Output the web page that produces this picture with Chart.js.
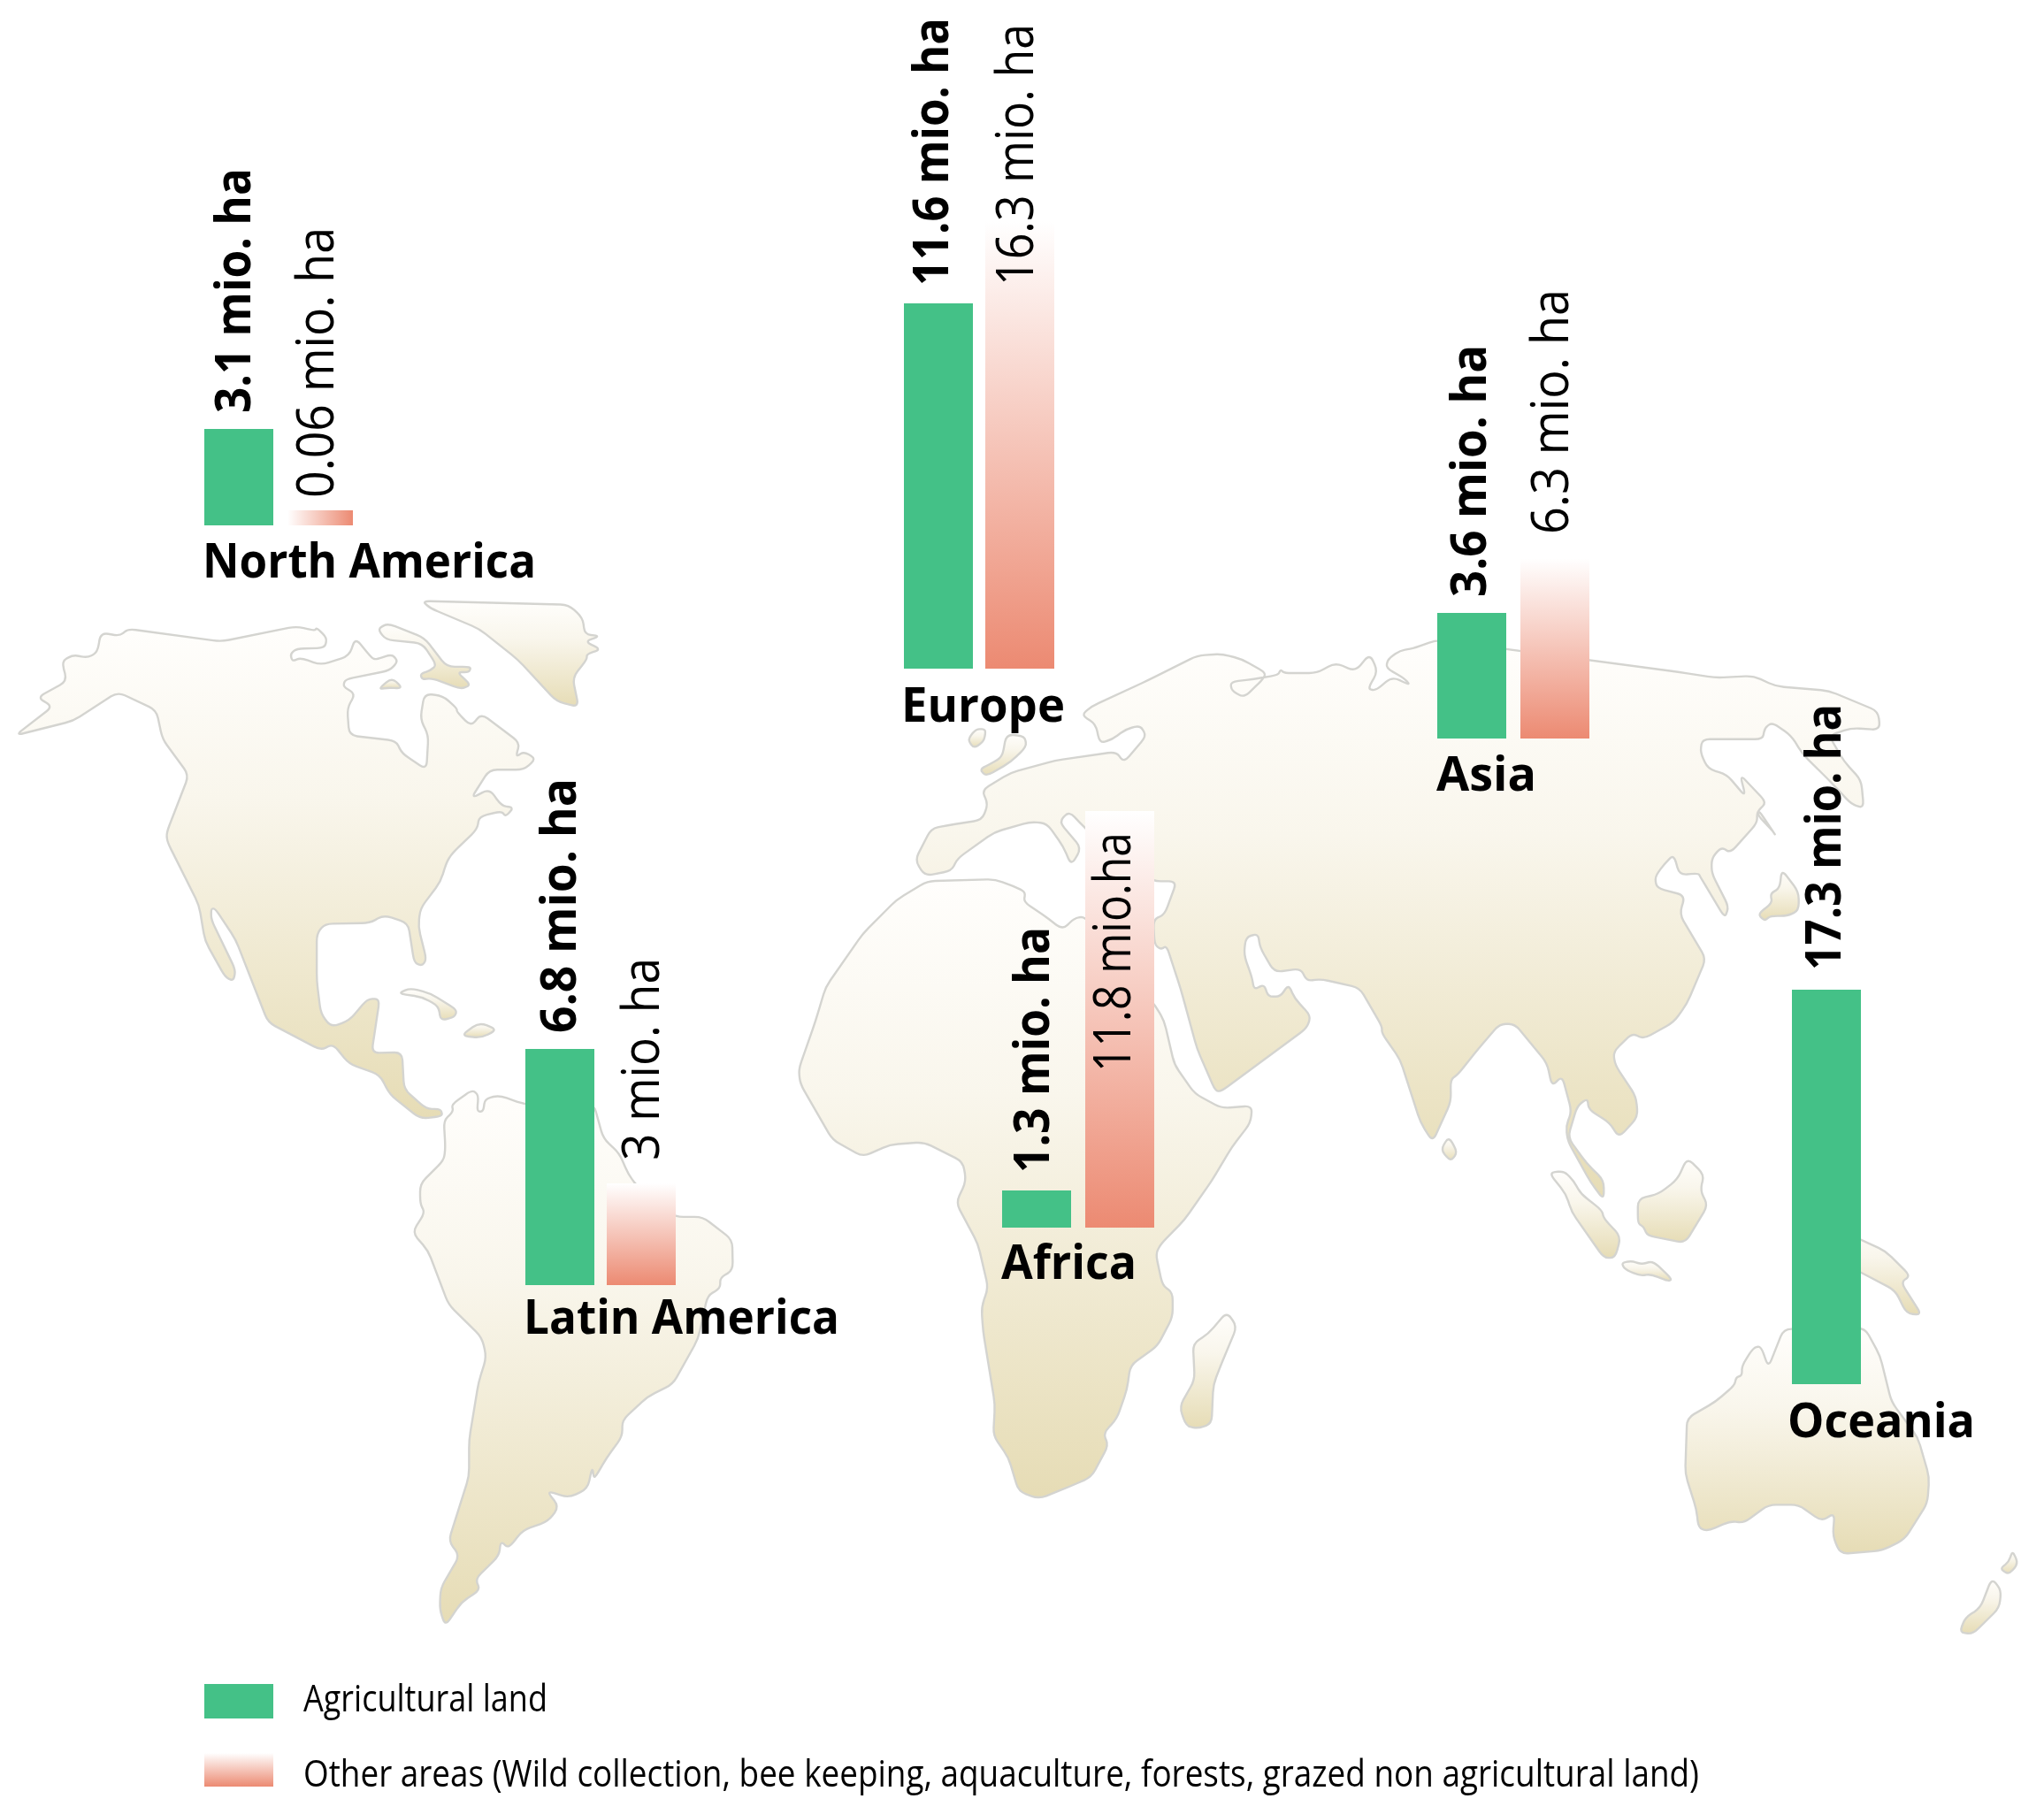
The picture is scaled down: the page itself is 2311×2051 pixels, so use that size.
<!DOCTYPE html>
<html><head><meta charset="utf-8">
<script src="https://cdn.jsdelivr.net/npm/chart.js@4"></script>
<style>html,body{margin:0;padding:0;background:#fff}
#stage{position:relative;width:2311px;height:2051px;overflow:hidden;filter:blur(0.7px)}
#stage canvas{position:absolute;left:0;top:0}</style></head>
<body><div id="stage"></div>
<script>
// ---------- data ----------
const regions      = ['North America','Latin America','Europe','Africa','Asia','Oceania'];
const agricultural = [3.1, 6.8, 11.6, 1.3, 3.6, 17.3];
const otherAreas   = [0.06, 3, 16.3, 11.8, 6.3, null];
const agriLabels   = ['3.1 mio. ha','6.8 mio. ha','11.6 mio. ha','1.3 mio. ha','3.6 mio. ha','17.3 mio. ha'];
const otherLabels  = ['0.06 mio. ha','3 mio. ha','16.3 mio. ha','11.8 mio.ha','6.3 mio. ha',null];
const legendLabels = ['Agricultural land','Other areas (Wild collection, bee keeping, aquaculture, forests, grazed non agricultural land)'];

// ---------- layout (pixels on the page, not data) ----------
const W = 2311, H = 2051;
const agriLeft   = [231,594,1022,1133,1625,2026];
const otherLeft  = [321,686,1114,1227,1719,2120];
const baseline   = [594,1453,756,1388,835,1565];
const agriDrawn  = [109,267,413,42,142,446];
const otherDrawn = [17,115,506,471,204,1];
const barWidth = 78;
// value labels: x of text baseline, y of text start, drawn length
const agriText  = [[283,467,277],[651,1168,288],[1072,323,303],[1186,1326,278],[1680,675,285],[2081,1097,301]];
const otherText = [[377,563,306],[745,1312,229],[1168,323,296],[1278,1212,271],[1773,604,277],null];
// region names: x, baseline y, width
const nameText  = [[229,653,377],[592,1508,357],[1019,816,185],[1132,1446,153],[1624,894,113],[2021,1625,212]];
const GREEN = '#44C187', SALMON = '#EC8A72';
const FONT = '"Open Sans"';

// ---------- base map outline, traced in cropped views ----------
const F1=[0,660,2.178,2.45],F2=[400,1220,2.8,2.45],F3=[880,880,2.613,1.823],F4=[1000,680,2.178,2.529],F5=[1640,760,2.337,2.376],F6=[1640,1300,2.337,2.703];
const t=(f,s)=>{const o=[];for(let i=0;i<s.length;i+=2)o.push([f[0]+s[i]/f[2],f[1]+s[i+1]/f[3]]);return o;};
const land=[
 t(F1,[38,420,130,340,92,315,165,270,152,215,180,197,215,205,240,190,248,135,295,145,315,125,545,160,730,118,775,130,780,122,805,150,800,178,730,180,715,195,720,215,740,205,790,225,860,200,875,150,915,205,925,210,965,195,980,215,960,240,850,265,845,285,875,305,855,345,860,420,975,435,990,470,1050,515,1055,420,1035,375,1045,305,1090,310,1125,345,1125,355,1160,395,1185,360,1280,440,1270,480,1290,465,1320,485,1290,515,1205,515,1160,595,1205,568,1235,615,1265,620,1245,645,1235,630,1180,645,1175,680,1115,745,1100,770,1085,825,1035,900,1030,950,1050,1040,1040,1058,1020,1050,1005,940,945,918,910,940,800,942,780,970,780,1100,790,1190,815,1228,860,1210,905,1150,935,1150,915,1300,990,1298,995,1400,1050,1455,1085,1455,1090,1475,1035,1482,960,1415,935,1360,860,1330,820,1275,790,1292,660,1215,580,985,530,900,520,900,520,930,580,1070,575,1100,555,1090,505,990,490,890,412,715,410,690,465,530,400,430,385,350,290,300,180,380]),
 t(F1,[1040,48,1400,58,1435,95,1440,140,1478,145,1440,160,1480,182,1445,195,1445,210,1410,260,1425,342,1370,325,1275,210,1180,125,1060,68]),
 t(F1,[930,125,955,110,1045,150,1100,230,1160,230,1155,245,1125,245,1160,280,1135,292,1065,262,1040,265,1035,250,1060,240,1075,225,1040,165,950,155]),
 t(F1,[932,292,965,260,992,290,955,288]),
 t(F1,[980,1135,1010,1120,1060,1135,1125,1180,1120,1200,1085,1210,1080,1170,1040,1145]),
 t(F1,[1135,1252,1180,1215,1225,1235,1185,1258]),
 t(F2,[285,115,315,90,310,70,375,30,395,45,390,90,410,90,415,55,460,45,540,70,760,70,790,165,840,205,870,265,900,300,1018,382,1105,382,1198,445,1200,530,1160,550,1160,580,1120,600,1090,720,1010,845,930,880,850,945,850,990,800,1050,770,1095,760,1105,755,1075,740,1135,680,1160,610,1140,650,1185,615,1225,535,1250,490,1300,465,1280,460,1320,385,1385,400,1415,340,1450,290,1515,272,1470,275,1410,335,1320,300,1280,365,1100,365,1000,395,840,420,770,405,715,300,625,235,475,185,425,225,370,210,345,210,290,285,225,290,190]),
 t(F3,[440,212,640,208,705,225,730,235,725,255,780,280,840,312,875,288,905,285,1115,470,1140,500,1170,590,1230,650,1310,680,1400,675,1395,710,1340,760,1280,830,1200,910,1130,960,1115,980,1135,1045,1165,1060,1165,1110,1120,1170,1040,1210,1030,1260,1000,1320,960,1350,975,1375,925,1440,860,1460,770,1485,710,1470,680,1400,635,1355,640,1290,605,1140,600,1090,620,1050,590,960,525,875,555,830,545,790,430,750,330,755,250,780,160,745,65,630,60,600,110,500,140,430,250,320,350,250]),
 t(F3,[1185,1295,1230,1240,1225,1165,1270,1145,1325,1100,1355,1130,1310,1205,1285,1250,1280,1330,1240,1340,1205,1335]),
 [...t(F4,[75,740,115,650,155,640,240,625,255,580,240,540,310,490,420,455,570,430,590,460,645,385,630,355,595,365,560,395,530,405,520,350,485,325,510,300,650,225,770,155,830,150,880,165,940,205,930,225,885,275,855,255,852,230,910,222,970,210,975,195,985,205,1065,205,1110,175,1160,200,1195,150,1215,200,1190,250,1210,255,1250,215,1295,240,1280,220,1235,190,1240,165,1270,140,1300,135,1360,110]),
  ...t(F5,[605,0,700,15,800,10,860,38,1000,50,1130,105,1135,155,1060,150,1000,170,1040,240,1085,290,1092,365,1060,355,1000,290,930,220,900,170,850,135,830,150,825,180,665,180,660,215,680,260,730,275,780,335,765,275,835,350,810,375,810,405,740,485,715,470,690,500,690,540,735,630,725,660,660,550,655,540,605,545,590,490,565,515,540,550,545,580,620,600,605,650,675,770,625,890,590,940,510,985,480,970,430,1020,435,1055,490,1140,495,1195,445,1250,420,1210,365,1175,362,1145,335,1165,310,1250,360,1320,405,1365,405,1418,370,1370,310,1260,305,1220,320,1180,295,1085,268,1112,255,1050,170,945,130,945,75,1010,20,1080,0,1095]),
  ...t(F4,[1395,1430,1350,1545,1320,1490,1270,1310,1225,1235,1225,1215,1170,1105,1075,1080,1040,1085,1025,1050,960,1060,925,990,920,950,890,960,885,1010,905,1075,910,1110,935,1095,945,1130,975,1130,995,1095,1010,1135,1050,1185,1040,1220,830,1400,815,1400,770,1280,730,1110,695,985,680,995,665,980,662,910,690,895,720,800,660,800,495,650,455,600,430,630,485,705,460,755,440,700,400,635,360,630,270,660,180,735,165,770,100,785])],
 t(F4,[300,380,345,385,350,415,310,460,250,500,235,480,260,465,290,445]),
 t(F4,[205,395,225,365,250,365,245,400,220,420]),
 t(F5,[812,650,850,620,845,595,870,580,875,530,920,590,920,640,890,655,845,655,830,668]),
 t(F5,[815,372,860,440,850,425,812,385]),
 [[1629,1300],[1638,1285],[1648,1303],[1640,1313]],
 t(F6,[260,70,300,65,325,95,345,135,400,185,405,210,450,265,435,330,405,330,320,190,305,135]),
 t(F6,[495,150,550,135,600,90,625,25,670,75,660,125,680,170,620,285,520,262,510,235,495,225]),
 t(F6,[452,345,480,340,505,350,535,340,585,395,575,402,530,380,500,385,460,365]),
 t(F6,[1000,230,1085,275,1150,310,1215,385,1190,405,1245,505,1205,500,1175,430,1085,375,1000,330]),
 t(F6,[880,548,1095,545,1135,630,1165,770,1235,880,1265,1000,1260,1080,1200,1190,1140,1225,1030,1235,1010,1180,1015,1110,980,1135,920,1085,840,1085,775,1140,740,1135,680,1165,655,1155,650,1100,620,990,625,820,700,770,750,720,755,695,770,690,770,660,800,605,820,600,840,665]),
 t(F6,[1345,1475,1360,1430,1400,1400,1430,1310,1455,1345,1450,1400,1380,1480]),
 t(F6,[1452,1280,1475,1260,1485,1225,1500,1265,1475,1298])
];

function tracePoly(c,poly){
  // corners rounded a little so the coast reads as a coast
  const n=poly.length, R=9;
  c.beginPath();
  for(let i=0;i<n;i++){
    const p=poly[(i+n-1)%n], q=poly[i], r=poly[(i+1)%n];
    const d1=Math.hypot(q[0]-p[0],q[1]-p[1])||1, d2=Math.hypot(r[0]-q[0],r[1]-q[1])||1;
    const a=Math.min(R,d1*.4)/d1, b=Math.min(R,d2*.4)/d2;
    const sx=q[0]+(p[0]-q[0])*a, sy=q[1]+(p[1]-q[1])*a, ex=q[0]+(r[0]-q[0])*b, ey=q[1]+(r[1]-q[1])*b;
    if(i===0)c.moveTo(sx,sy); else c.lineTo(sx,sy);
    c.quadraticCurveTo(q[0],q[1],ex,ey);
  }
  c.closePath();
}
function drawMap(c){
  c.save(); c.lineJoin='round'; c.lineWidth=2.4; c.strokeStyle='#D4D4D0';
  for(const poly of land){
    const ys=poly.map(p=>p[1]), top=Math.min(...ys), bot=Math.max(...ys);
    const g=c.createLinearGradient(0,top,0,bot);
    g.addColorStop(0,'#FFFEFC'); g.addColorStop(.35,'#F9F6EC'); g.addColorStop(1,'#E6DCB5');
    tracePoly(c,poly);
    c.fillStyle=g; c.fill(); c.stroke();
  }
  c.restore();
}
function fitText(c,txt,x,y,len,font,rot){
  c.save(); c.font=font; c.fillStyle='#000'; c.textBaseline='alphabetic'; c.textAlign='left';
  const w=c.measureText(txt).width;
  c.translate(x,y); if(rot)c.rotate(-Math.PI/2); c.scale(len/w,1);
  c.fillText(txt,0,0); c.restore();
}
function drawLegend(c){
  c.save();
  c.fillStyle=GREEN; c.fillRect(231,1904,78,39);
  const g=c.createLinearGradient(0,1982,0,2020); g.addColorStop(0,'#fff'); g.addColorStop(1,SALMON);
  c.fillStyle=g; c.fillRect(231,1982,78,38);
  c.restore();
  fitText(c,legendLabels[0],343,1935,276,`42px ${FONT}`);
  fitText(c,legendLabels[1],343,2020,1578,`42px ${FONT}`);
}
const backdrop={id:'backdrop',beforeDraw(ch){drawMap(ch.ctx);drawLegend(ch.ctx);}};

function addRegion(i,first){
  const cv=document.createElement('canvas'); cv.width=W; cv.height=H;
  cv.style.width=W+'px'; cv.style.height=H+'px';
  document.getElementById('stage').appendChild(cv);
  const band=otherLeft[i]-agriLeft[i], left=agriLeft[i]-(band-barWidth)/2, right=left+2*band, bottom=baseline[i];
  const labelsPlugin={id:'texts',afterDraw(ch){
    const c=ch.ctx;
    const a=agriText[i]; fitText(c,agriLabels[i],a[0],a[1],a[2],`bold 56px ${FONT}`,true);
    const o=otherText[i]; if(o) fitText(c,otherLabels[i],o[0],o[1],o[2],`58px ${FONT}`,true);
    const n=nameText[i]; fitText(c,regions[i],n[0],n[1],n[2],`bold 53px ${FONT}`);
  }};
  const fill=(ctx)=>{
    const c=ctx.chart.ctx; let g;
    if(otherAreas[i]<0.5){ // the smallest bar fades sideways
      g=c.createLinearGradient(otherLeft[i]+4,0,otherLeft[i]+barWidth,0);
    } else {
      g=c.createLinearGradient(0,bottom-otherDrawn[i],0,bottom);
    }
    g.addColorStop(0,'#ffffff'); g.addColorStop(1,SALMON); return g;
  };
  new Chart(cv,{
    type:'bar',
    data:{labels:['Agricultural land','Other areas'],datasets:[
      {data:[agricultural[i],null],yAxisID:'yA',backgroundColor:GREEN,grouped:false,barPercentage:barWidth/band,categoryPercentage:1,borderWidth:0},
      {data:[null,otherAreas[i]],yAxisID:'yO',backgroundColor:fill,grouped:false,barPercentage:barWidth/band,categoryPercentage:1,borderWidth:0}
    ]},
    options:{responsive:false,animation:false,devicePixelRatio:1,
      layout:{padding:{left:left,right:W-right,top:0,bottom:H-bottom}},
      plugins:{legend:{display:false},tooltip:{enabled:false},title:{display:false}},
      scales:{
        x:{display:false,grid:{display:false}},
        yA:{display:false,min:0,max:agricultural[i]*bottom/agriDrawn[i]},
        yO:{display:false,min:0,max:(otherAreas[i]||1)*bottom/otherDrawn[i]}
      }},
    plugins:first?[backdrop,labelsPlugin]:[labelsPlugin]
  });
}
regions.forEach((r,i)=>addRegion(i,i===0));
</script></body></html>
